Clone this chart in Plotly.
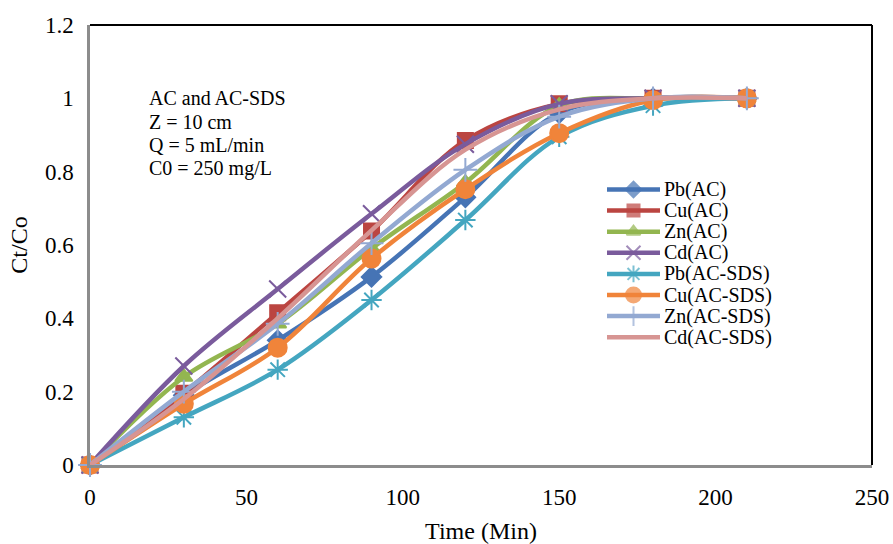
import plotly.graph_objects as go

# Breakthrough curves: Ct/Co vs time for AC and AC-SDS columns
time_min = [0, 30, 60, 90, 120, 150, 180, 210]

pb_ac = [0, 0.19, 0.34, 0.513, 0.73, 0.96, 1.0, 1.0]
cu_ac = [0, 0.196, 0.415, 0.638, 0.885, 0.985, 1.0, 1.0]
zn_ac = [0, 0.24, 0.385, 0.59, 0.77, 0.98, 1.0, 1.0]
cd_ac = [0, 0.27, 0.48, 0.685, 0.875, 0.985, 1.0, 1.0]
pb_acsds = [0, 0.13, 0.26, 0.45, 0.668, 0.895, 0.98, 1.0]
cu_acsds = [0, 0.167, 0.32, 0.563, 0.752, 0.905, 0.995, 1.0]
zn_acsds = [0, 0.2, 0.385, 0.605, 0.805, 0.95, 1.0, 1.0]
cd_acsds = [0, 0.18, 0.4, 0.64, 0.86, 0.97, 1.0, 1.0]

series_names = ["Pb(AC)", "Cu(AC)", "Zn(AC)", "Cd(AC)",
                "Pb(AC-SDS)", "Cu(AC-SDS)", "Zn(AC-SDS)", "Cd(AC-SDS)"]
series_values = [pb_ac, cu_ac, zn_ac, cd_ac, pb_acsds, cu_acsds, zn_acsds, cd_acsds]
colors = ["#4674B5", "#BB4541", "#93B650", "#7A5B9C",
          "#44A6C0", "#F0843A", "#93A9D2", "#D79593"]
symbols = ["diamond", "square", "triangle-up", "x-thin-open",
           "asterisk-open", "circle", "cross-thin-open", None]
sizes = [15, 15, 15, 17, 17, 18, 17, 0]

info_lines = ["AC and AC-SDS", "Z = 10 cm", "Q = 5 mL/min", "C0 = 250 mg/L"]

serif = "Liberation Serif"
LINE_W = 4.5

fig = go.Figure()
for name, vals, col, sym, sz in zip(series_names, series_values, colors, symbols, sizes):
    marker = dict(color=col, size=sz, line=dict(color=col, width=2))
    if sym is None:
        mode = "lines"
    else:
        mode = "lines+markers"
        marker["symbol"] = sym
    fig.add_trace(go.Scatter(
        x=time_min, y=vals, name=name, mode=mode, showlegend=False,
        cliponaxis=False,
        line=dict(color=col, width=LINE_W, shape="spline", smoothing=1.0),
        marker=marker,
    ))

# Legend: sample line with centred marker on a pixel-based overlay axis
LEG_X0, LEG_X1, LEG_TX = 607, 660, 662
LEG_Y0, LEG_DY = 189.5, 21.1
for i, (name, col, sym, sz) in enumerate(zip(series_names, colors, symbols, sizes)):
    yy = LEG_Y0 + i * LEG_DY
    fig.add_trace(go.Scatter(
        x=[LEG_X0, (LEG_X0 + LEG_X1) / 2, LEG_X1], y=[yy, yy, yy],
        xaxis="x2", yaxis="y2", showlegend=False, hoverinfo="skip",
        mode="lines" if sym is None else "lines+markers",
        line=dict(color=col, width=LINE_W),
        marker=dict(color=col, symbol=sym or "circle",
                    size=[0, max(sz - 3, 0), 0],
                    line=dict(color=col, width=2)),
    ))
    fig.add_annotation(
        x=LEG_TX, y=yy, xref="x2", yref="y2", xanchor="left", yanchor="middle",
        showarrow=False, text=name, font=dict(family=serif, size=20, color="black"),
    )

# Column conditions text block
INFO_X, INFO_Y0, INFO_DY = 147, 98, 23.5
for i, line in enumerate(info_lines):
    fig.add_annotation(
        x=INFO_X, y=INFO_Y0 + i * INFO_DY, xref="x2", yref="y2",
        xanchor="left", yanchor="middle", showarrow=False, text=line,
        font=dict(family=serif, size=20, color="black"),
    )

# black frame along top and right of the plot area
fig.add_shape(type="line", xref="paper", yref="paper", x0=0, x1=1, y0=1, y1=1,
              line=dict(color="black", width=2))
fig.add_shape(type="line", xref="paper", yref="paper", x0=1, x1=1, y0=0, y1=1,
              line=dict(color="black", width=2))

fig.update_layout(
    width=893, height=544,
    margin=dict(l=90, r=21, t=25, b=79),
    paper_bgcolor="white", plot_bgcolor="white",
    font=dict(family=serif, color="black"),
    showlegend=False,
    xaxis=dict(range=[0, 250], dtick=50, tick0=0, showgrid=False, zeroline=False,
               showline=True, linecolor="#8C8C8C", linewidth=2.5,
               ticks="outside", ticklen=10, tickcolor="rgba(0,0,0,0)",
               tickfont=dict(family=serif, size=23),
               automargin=False,
               title=dict(text="Time (Min)", font=dict(family=serif, size=24), standoff=14)),
    yaxis=dict(range=[0, 1.2], dtick=0.2, tick0=0, showgrid=False, zeroline=False,
               showline=True, linecolor="#8C8C8C", linewidth=2.5,
               ticks="outside", ticklen=9, tickcolor="rgba(0,0,0,0)",
               tickfont=dict(family=serif, size=23),
               automargin=False,
               title=dict(text="Ct/Co", font=dict(family=serif, size=24), standoff=11)),
    xaxis2=dict(overlaying="x", range=[90, 872], visible=False, fixedrange=True),
    yaxis2=dict(overlaying="y", range=[465, 25], visible=False, fixedrange=True),
)

fig.write_html("out.html")
